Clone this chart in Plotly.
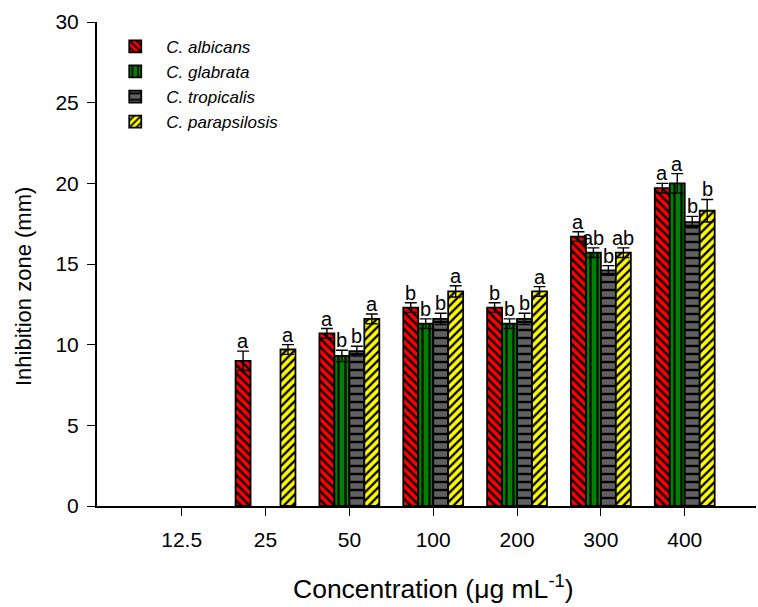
import plotly.graph_objects as go

categories = ["12.5", "25", "50", "100", "200", "300", "400"]
species = ["C. albicans", "C. glabrata", "C. tropicalis", "C. parapsilosis"]

albicans = [None, 9.0, 10.7, 12.3, 12.3, 16.7, 19.7]
albicans_err = [None, 0.6, 0.3, 0.3, 0.3, 0.3, 0.3]
albicans_lbl = [None, "a", "a", "b", "b", "a", "a"]

glabrata = [None, None, 9.3, 11.3, 11.3, 15.7, 20.0]
glabrata_err = [None, None, 0.35, 0.3, 0.3, 0.3, 0.6]
glabrata_lbl = [None, None, "b", "b", "b", "ab", "a"]

tropicalis = [None, None, 9.6, 11.6, 11.6, 14.6, 17.6]
tropicalis_err = [None, None, 0.3, 0.35, 0.35, 0.3, 0.35]
tropicalis_lbl = [None, None, "b", "b", "b", "b", "b"]

parapsilosis = [None, 9.7, 11.6, 13.3, 13.3, 15.7, 18.3]
parapsilosis_err = [None, 0.3, 0.3, 0.35, 0.3, 0.3, 0.7]
parapsilosis_lbl = [None, "a", "a", "a", "a", "ab", "b"]

x_title = "Concentration (μg mL<sup>-1</sup>)"
y_title = "Inhibition zone (mm)"

series = [
    (albicans, albicans_err, albicans_lbl),
    (glabrata, glabrata_err, glabrata_lbl),
    (tropicalis, tropicalis_err, tropicalis_lbl),
    (parapsilosis, parapsilosis_err, parapsilosis_lbl),
]
colors = ["#ff0000", "#008000", "#606060", "#ffff00"]
shapes = ["\\", "|", "-", "/"]
psizes = [6, 7, 8, 6]
solid = [0.38, 0.3, 0.3, 0.38]

FONT = "Liberation Sans, Arial, sans-serif"
bargap = 0.286
bw = (1 - bargap) / 4
xpos = list(range(len(categories)))

fig = go.Figure()
annotations = []
for k, ((vals, errs, lbls), name) in enumerate(zip(series, species)):
    fig.add_trace(go.Bar(
        x=xpos, y=vals, name=f"<i>{name}</i>",
        marker=dict(color=colors[k], line=dict(color="black", width=1.8),
                    pattern=dict(shape=shapes[k], fgcolor="black", bgcolor=colors[k],
                                 size=psizes[k], solidity=solid[k], fillmode="replace")),
        error_y=dict(type="data", array=errs, color="black", thickness=1.4, width=6, visible=True),
    ))
    off = (k - 1.5) * bw
    for i, (v, e, t) in enumerate(zip(vals, errs, lbls)):
        if v is None or t is None:
            continue
        annotations.append(dict(x=i + off, y=v + e, text=t, showarrow=False,
                                xref="x", yref="y", yanchor="bottom", yshift=-3,
                                font=dict(family=FONT, size=20, color="black")))

# axis titles placed as annotations (paper coordinates)
annotations.append(dict(text=x_title, xref="paper", yref="paper", x=0.5106, y=-0.168,
                        xanchor="center", yanchor="middle", showarrow=False,
                        font=dict(family=FONT, size=26.5, color="black")))
annotations.append(dict(text=y_title, xref="paper", yref="paper", x=-0.1123, y=0.4545,
                        xanchor="center", yanchor="middle", showarrow=False, textangle=-90,
                        font=dict(family=FONT, size=22, color="black")))

fig.update_layout(
    width=758, height=607,
    margin=dict(l=97, r=2, t=22, b=101),
    paper_bgcolor="white", plot_bgcolor="white",
    barmode="group", bargap=bargap, bargroupgap=0,
    font=dict(family=FONT, color="black"),
    annotations=annotations,
    legend=dict(x=0.011, y=0.986, xanchor="left", yanchor="top",
                font=dict(family=FONT, size=17, color="black"),
                bgcolor="rgba(0,0,0,0)", tracegroupgap=0, itemwidth=52),
    xaxis=dict(range=[-1.01, 6.85], tickvals=xpos, ticktext=categories,
               showline=True, linecolor="black", linewidth=2,
               ticks="outside", ticklen=8, tickwidth=1, tickcolor="black",
               ticklabelstandoff=6, showgrid=False, zeroline=False,
               tickfont=dict(family=FONT, size=21)),
    yaxis=dict(range=[0, 30], tickvals=[0, 5, 10, 15, 20, 25, 30],
               showline=True, linecolor="black", linewidth=2,
               ticks="outside", ticklen=8, tickwidth=1, tickcolor="black",
               ticklabelstandoff=4, showgrid=False, zeroline=False,
               tickfont=dict(family=FONT, size=21)),
)

fig.write_html("out.html")
